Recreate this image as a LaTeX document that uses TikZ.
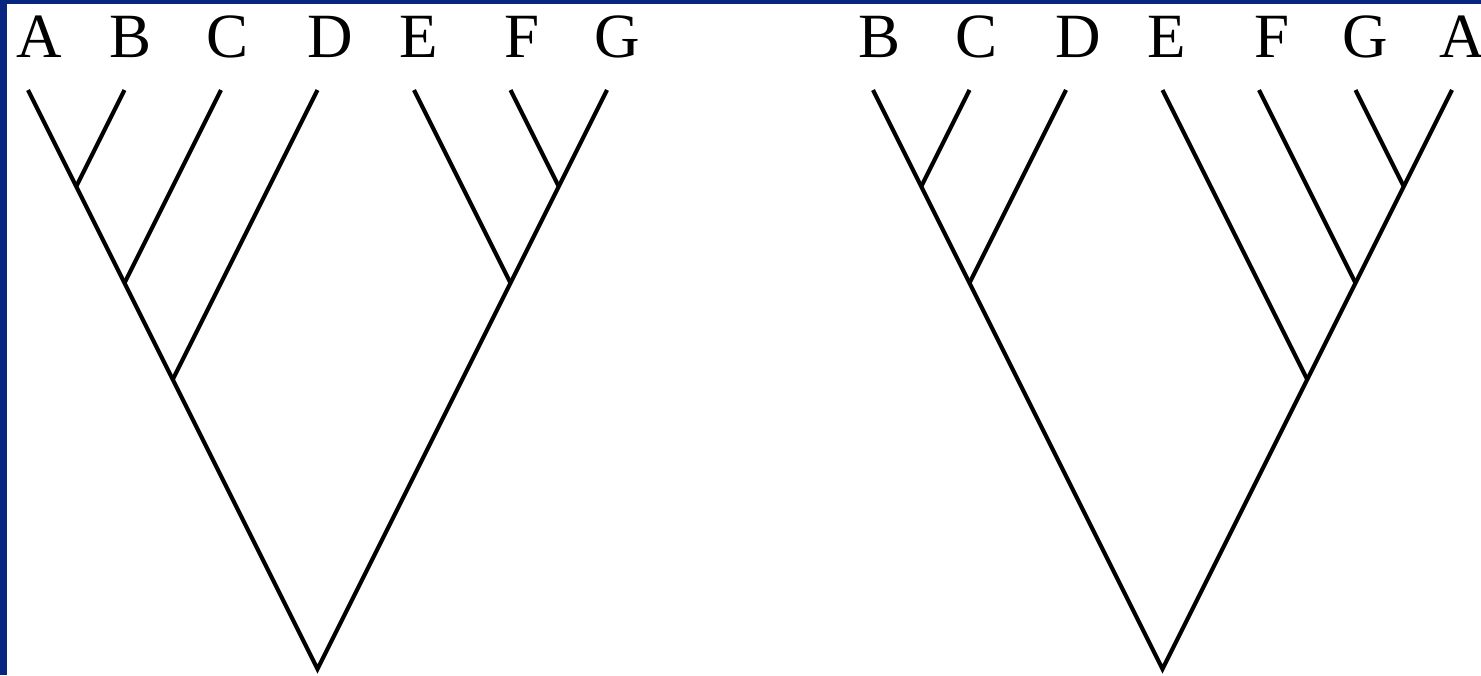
\documentclass[tikz,border=0pt]{standalone}
\usepackage{fontspec}
\setmainfont{Liberation Serif}
\begin{document}
\begin{tikzpicture}[x=1pt,y=-1pt,
  branch/.style={line width=4.2pt,black},
  leaflbl/.style={anchor=base,inner sep=0pt,font=\fontsize{63}{63}\selectfont}]
\definecolor{frameblue}{RGB}{8,38,128}
\useasboundingbox (0,0) rectangle (1481,675);
\fill[white] (0,0) rectangle (1481,675);
\fill[frameblue] (0,0) rectangle (1481,4);
\fill[frameblue] (0,0) rectangle (7,675);
% ---------- tree 1 ----------
\coordinate (a1) at (28,90);
\coordinate (b1) at (124.5,90);
\coordinate (c1) at (221,90);
\coordinate (d1) at (317.5,90);
\coordinate (e1) at (414,90);
\coordinate (f1) at (510.5,90);
\coordinate (g1) at (607,90);
\coordinate (r1) at (317.5,669);
\coordinate (ab1) at (76.25,186.5);
\coordinate (abc1) at (124.5,283);
\coordinate (abcd1) at (172.75,379.5);
\coordinate (fg1) at (558.75,186.5);
\coordinate (efg1) at (510.5,283);
\draw[branch] (a1) -- (r1) -- (g1);
\draw[branch] (b1) -- (ab1);
\draw[branch] (c1) -- (abc1);
\draw[branch] (d1) -- (abcd1);
\draw[branch] (f1) -- (fg1);
\draw[branch] (e1) -- (efg1);
\node[leaflbl] (la1) at (39,57) {A};
\node[leaflbl] (lb1) at (131,57) {B};
\node[leaflbl] (lc1) at (228,57) {C};
\node[leaflbl] (ld1) at (330,57) {D};
\node[leaflbl] (le1) at (419,57) {E};
\node[leaflbl] (lf1) at (522,57) {F};
\node[leaflbl] (lg1) at (617,57) {G};
% ---------- tree 2 ----------
\coordinate (b2) at (873,90);
\coordinate (c2) at (969.5,90);
\coordinate (d2) at (1066,90);
\coordinate (e2) at (1162.5,90);
\coordinate (f2) at (1259,90);
\coordinate (g2) at (1355.5,90);
\coordinate (a2) at (1452,90);
\coordinate (r2) at (1162.5,669);
\coordinate (bc2) at (921.25,186.5);
\coordinate (bcd2) at (969.5,283);
\coordinate (ga2) at (1403.75,186.5);
\coordinate (fga2) at (1355.5,283);
\coordinate (efga2) at (1307.25,379.5);
\draw[branch] (b2) -- (r2) -- (a2);
\draw[branch] (c2) -- (bc2);
\draw[branch] (d2) -- (bcd2);
\draw[branch] (g2) -- (ga2);
\draw[branch] (f2) -- (fga2);
\draw[branch] (e2) -- (efga2);
\node[leaflbl] (lb2) at (880,57) {B};
\node[leaflbl] (lc2) at (977,57) {C};
\node[leaflbl] (ld2) at (1078,57) {D};
\node[leaflbl] (le2) at (1167,57) {E};
\node[leaflbl] (lf2) at (1272,57) {F};
\node[leaflbl] (lg2) at (1365,57) {G};
\node[leaflbl] (la2) at (1462,57) {A};
\end{tikzpicture}
\end{document}
